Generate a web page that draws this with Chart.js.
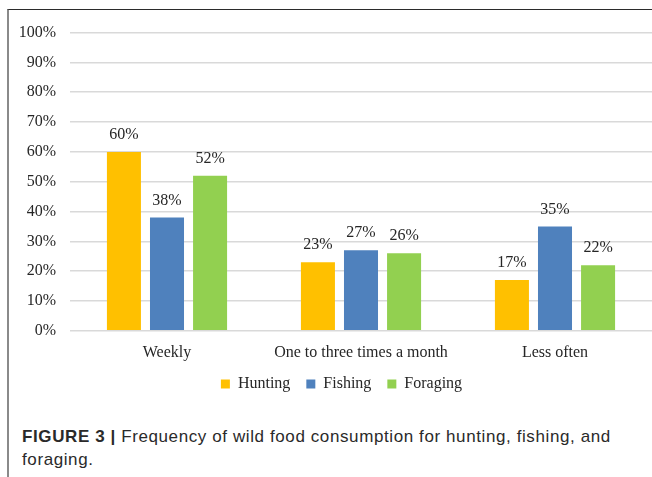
<!DOCTYPE html>
<html>
<head>
<meta charset="utf-8">
<script src="https://cdn.jsdelivr.net/npm/chart.js@4/dist/chart.umd.min.js"></script>
<style>
  body { margin: 0; width: 652px; height: 477px; background: #fff; position: relative; overflow: hidden; }
  .frame { position: absolute; left: 7px; top: 9px; right: 0; bottom: 0; border-left: 2px solid #8a8a8a; border-top: 1.5px solid #2b2b2b; }
  .plot { position: absolute; left: 9px; top: 9px; width: 643px; height: 403px; }
  .caption { position: absolute; left: 22px; top: 425px; width: 625px; font: 17px "Liberation Sans", Arial, sans-serif; letter-spacing: 0.6px; line-height: 23px; color: #2a2a2a; }
  .caption b { font-weight: bold; }
</style>
</head>
<body>
<div class="frame"></div>
<div class="plot"><canvas id="chart"></canvas></div>
<div class="caption"><b>FIGURE 3 |</b> Frequency of wild food consumption for hunting, fishing, and foraging.</div>
<script>
const categories = ['Weekly', 'One to three times a month', 'Less often'];
const hunting = [60, 23, 17];
const fishing = [38, 27, 35];
const foraging = [52, 26, 22];
const yTicks = [0, 10, 20, 30, 40, 50, 60, 70, 80, 90, 100];

const serif = '"Liberation Serif", "Times New Roman", serif';

// percentage labels above each bar
const valueLabels = {
    id: 'valueLabels',
    afterDatasetsDraw(chart) {
        const ctx = chart.ctx;
        ctx.save();
        ctx.font = '16px ' + serif;
        ctx.fillStyle = '#262626';
        ctx.textAlign = 'center';
        ctx.textBaseline = 'bottom';
        chart.data.datasets.forEach((ds, i) => {
            chart.getDatasetMeta(i).data.forEach((bar, j) => {
                ctx.fillText(ds.data[j] + '%', bar.x, bar.y - 9);
            });
        });
        ctx.restore();
    }
};

// move the legend a bit right of centre and slightly up
const legendShift = {
    id: 'legendShift',
    afterLayout(chart) {
        const lg = chart.legend;
        lg.left += 11;
        lg.right += 11;
        lg.top -= 6;
        lg.bottom -= 6;
    }
};

new Chart(document.getElementById('chart').getContext('2d'), {
    type: 'bar',
    data: {
        labels: categories,
        datasets: [{
            label: 'Hunting',
            data: hunting,
            backgroundColor: '#ffc000'
        }, {
            label: 'Fishing',
            data: fishing,
            backgroundColor: '#4f81bd'
        }, {
            label: 'Foraging',
            data: foraging,
            backgroundColor: '#92d050'
        }]
    },
    options: {
        responsive: true,
        maintainAspectRatio: false,
        animation: false,
        devicePixelRatio: 1,
        categoryPercentage: 0.666,
        barPercentage: 0.79,
        layout: { padding: { top: 14, right: 0, left: 0, bottom: 4 } },
        scales: {
            x: {
                grid: { display: false },
                border: { display: false },
                ticks: { color: '#262626', font: { family: serif, size: 16 }, padding: 4 }
            },
            y: {
                min: 0,
                max: 100,
                afterBuildTicks: scale => { scale.ticks = yTicks.map(v => ({ value: v })); },
                afterFit: scale => { scale.width = 61; },
                grid: { color: '#d9d9d9', lineWidth: 1.5, drawTicks: false },
                border: { display: false },
                ticks: {
                    color: '#262626',
                    font: { family: serif, size: 16 },
                    padding: 14,
                    callback: value => value + '%'
                }
            }
        },
        plugins: {
            legend: {
                position: 'bottom',
                labels: {
                    color: '#262626',
                    font: { family: serif, size: 16 },
                    boxWidth: 9,
                    boxHeight: 9,
                    padding: 16
                }
            },
            tooltip: { enabled: false }
        }
    },
    plugins: [valueLabels, legendShift]
});
</script>
</body>
</html>
